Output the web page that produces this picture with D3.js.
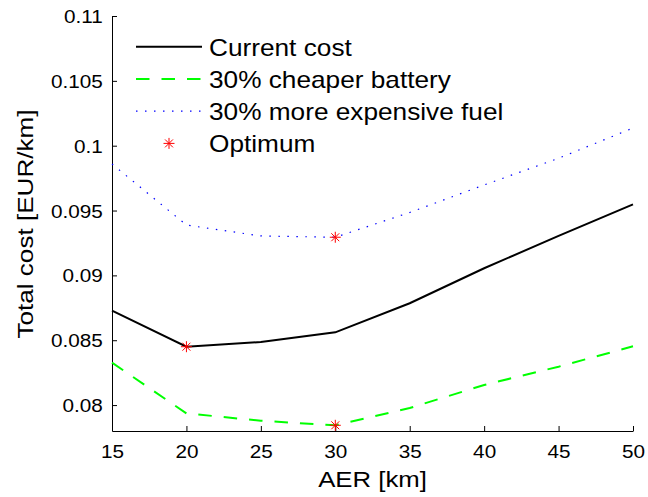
<!DOCTYPE html>
<html>
<head>
<meta charset="utf-8">
<script src="https://cdn.jsdelivr.net/npm/d3@7"></script>
<style>
  body { margin: 0; background: #fff; }
  svg { display: block; }
</style>
</head>
<body>
<svg id="chart"></svg>
<script>
// AER values (km)
const aer = [15, 20, 25, 30, 35, 40, 45, 50];
// total cost per scenario (EUR/km)
const currentCost = [0.08728, 0.08450, 0.08486, 0.08561, 0.08785, 0.09055, 0.09304, 0.09548];
const cheaperBattery = [0.08327, 0.07936, 0.07879, 0.07844, 0.07977, 0.08155, 0.08296, 0.08453];
const expensiveFuel = [0.09859, 0.09388, 0.09304, 0.09294, 0.09485, 0.09697, 0.09903, 0.10136];

const seriesNames = ['Current cost', '30% cheaper battery', '30% more expensive fuel'];
const optimumName = 'Optimum';
const xTicks = [15, 20, 25, 30, 35, 40, 45, 50];
const yTicks = [0.08, 0.085, 0.09, 0.095, 0.1, 0.105, 0.11];

const width = 648, height = 497;
const font = '"Liberation Sans", Arial, Helvetica, sans-serif';
const stretch = 1.12; // MATLAB text renders a little wider than Arial

const svg = d3.select('#chart')
    .attr('width', width)
    .attr('height', height)
    .style('font-family', font);

const x = d3.scaleLinear().domain([15, 50]).range([112, 633]);
const y = d3.scaleLinear().domain([0.078, 0.11]).range([431, 16]);

// series styles
const series = [
    { name: seriesNames[0], values: currentCost, color: '#000000', width: 2, dash: null },
    { name: seriesNames[1], values: cheaperBattery, color: '#00ff00', width: 2, dash: '13.5,12' },
    { name: seriesNames[2], values: expensiveFuel, color: '#0000ff', width: 1.2, dash: '1.5,7.5' }
];

// MATLAB style '*' marker: a plus and a cross on top of each other
function starPath(cx, cy, r) {
    const p = d3.path();
    const d = r * 0.72;
    p.moveTo(cx - r, cy); p.lineTo(cx + r, cy);
    p.moveTo(cx, cy - r); p.lineTo(cx, cy + r);
    p.moveTo(cx - d, cy - d); p.lineTo(cx + d, cy + d);
    p.moveTo(cx - d, cy + d); p.lineTo(cx + d, cy - d);
    return p.toString();
}

// X axis
const xAxis = svg.append('g')
    .attr('transform', `translate(0,${y.range()[0]})`)
    .call(d3.axisBottom(x).tickValues(xTicks).tickSizeInner(-5).tickSizeOuter(0).tickFormat(d3.format('d')));
xAxis.select('.domain').attr('stroke', '#000').attr('stroke-width', 1);
xAxis.selectAll('.tick line').attr('stroke', '#000');
xAxis.selectAll('.tick text')
    .attr('y', 27).attr('dy', null)
    .attr('fill', '#000')
    .style('font-size', '18.5px')
    .style('font-family', font)
    .attr('transform', `scale(${stretch},1)`);

// Y axis
const yAxis = svg.append('g')
    .attr('transform', `translate(${x.range()[0]},0)`)
    .call(d3.axisLeft(y).tickValues(yTicks).tickSizeInner(-5).tickSizeOuter(0).tickFormat(d => String(+d.toFixed(3))));
yAxis.select('.domain').attr('stroke', '#000').attr('stroke-width', 1);
yAxis.selectAll('.tick line').attr('stroke', '#000');
yAxis.selectAll('.tick text')
    .attr('x', -9.3 / stretch).attr('dy', '0.35em')
    .attr('fill', '#000')
    .style('font-size', '18.5px')
    .style('font-family', font)
    .attr('transform', `scale(${stretch},1)`);

// lines
const line = d3.line()
    .x((d, i) => x(aer[i]))
    .y(d => y(d));

svg.selectAll('.series')
    .data(series)
    .enter()
    .append('path')
    .attr('class', 'series')
    .attr('d', d => line(d.values))
    .attr('fill', 'none')
    .attr('stroke', d => d.color)
    .attr('stroke-width', d => d.width)
    .attr('stroke-dasharray', d => d.dash);

// optimum markers at each series minimum
const optima = series.map(s => {
    const i = d3.minIndex(s.values);
    return { x: aer[i], y: s.values[i] };
});
svg.selectAll('.optimum')
    .data(optima)
    .enter()
    .append('path')
    .attr('class', 'optimum')
    .attr('d', d => starPath(x(d.x), y(d.y), 5.5))
    .attr('stroke', '#ff0000')
    .attr('stroke-width', 1)
    .attr('fill', 'none');

// axis titles
svg.append('text')
    .attr('transform', `translate(372.5,487) scale(${stretch},1)`)
    .attr('text-anchor', 'middle')
    .style('font-size', '23px')
    .text('AER [km]');

svg.append('text')
    .attr('transform', `translate(33,224) rotate(-90) scale(${stretch + 0.04},1)`)
    .attr('text-anchor', 'middle')
    .style('font-size', '22.5px')
    .text('Total cost [EUR/km]');

// legend
const legendRows = series.map(s => ({ name: s.name, style: s })).concat([{ name: optimumName, style: null }]);
const legend = svg.append('g').attr('class', 'legend');
const legendItems = legend.selectAll('.legend-item')
    .data(legendRows)
    .enter()
    .append('g')
    .attr('class', 'legend-item')
    .attr('transform', (d, i) => `translate(0, ${46.8 + i * 32.2})`);

legendItems.filter(d => d.style)
    .append('line')
    .attr('x1', 136).attr('x2', 202)
    .attr('y1', 0).attr('y2', 0)
    .attr('stroke', d => d.style.color)
    .attr('stroke-width', d => d.style.width)
    .attr('stroke-dasharray', d => d.style.dash);

legendItems.filter(d => !d.style)
    .append('path')
    .attr('d', starPath(169, 0, 5.5))
    .attr('stroke', '#ff0000')
    .attr('stroke-width', 1)
    .attr('fill', 'none');

legendItems.append('text')
    .attr('transform', 'translate(209, 9) scale(1.14,1)')
    .style('font-size', '23px')
    .attr('fill', '#000')
    .text(d => d.name);
</script>
</body>
</html>
